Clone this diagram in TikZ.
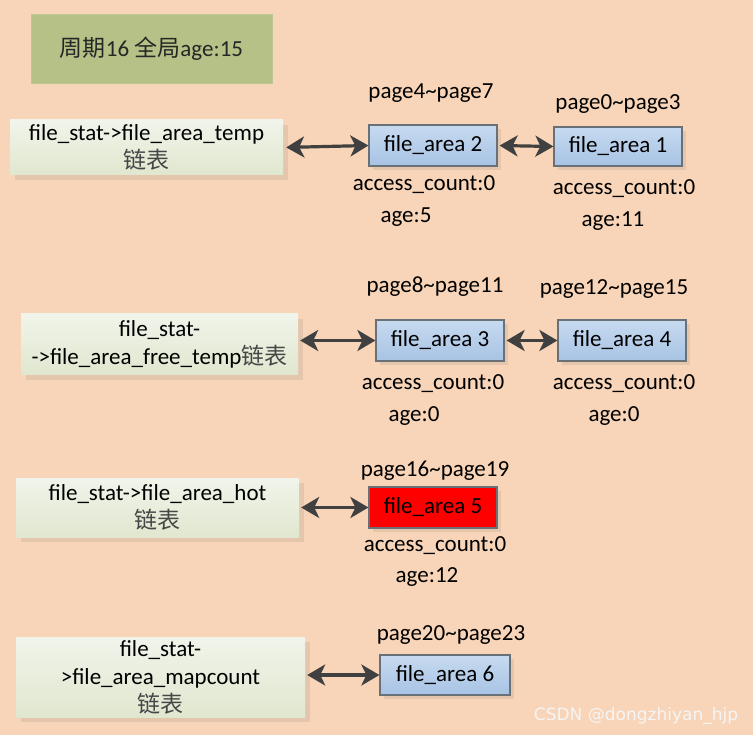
\documentclass[tikz,border=0pt]{standalone}
\usepackage{fontspec}
\setmainfont{Carlito}
\newfontfamily\cjk{Noto Sans CJK SC}
\newfontfamily\wmfont{DejaVu Sans}
\usetikzlibrary{arrows.meta,shadows}
\definecolor{bgc}{RGB}{248,213,184}
\definecolor{titlec}{RGB}{181,193,135}
\definecolor{ltop}{RGB}{241,244,234}
\definecolor{lbot}{RGB}{224,231,207}
\definecolor{btop}{RGB}{199,218,240}
\definecolor{bbot}{RGB}{167,195,228}
\definecolor{bordc}{RGB}{105,112,120}
\definecolor{shadc}{RGB}{228,198,172}
\definecolor{arrc}{RGB}{64,64,64}
\definecolor{cjkc}{RGB}{70,70,70}
\tikzset{
  txt/.style={inner sep=0pt, font=\fontsize{23}{28}\selectfont},
  listbox/.style={txt, align=center, top color=ltop, bottom color=lbot, draw=none,
    drop shadow={shadow xshift=5pt, shadow yshift=-5pt, fill=shadc, opacity=1}},
  areabox/.style={txt, minimum width=128pt, minimum height=41pt, draw=bordc, line width=1.2pt,
    top color=btop, bottom color=bbot,
    drop shadow={shadow xshift=4pt, shadow yshift=-4pt, fill=shadc, opacity=1}},
  hotbox/.style={areabox, top color=red, bottom color=red},
  arr/.style={{Stealth[length=18pt,width=21pt,inset=5pt]}-{Stealth[length=18pt,width=21pt,inset=5pt]}, line width=3.2pt, draw=arrc},
}
\begin{document}
\begin{tikzpicture}[x=1pt,y=-1pt]
\useasboundingbox (0,0) rectangle (753,735);
\fill[bgc] (0,0) rectangle (753,735);

% title
\node[txt, fill=titlec, draw=titlec!90!white, minimum width=241pt, minimum height=69pt, text=black!85] (title) at (151.5,48.5) {{\cjk 周期}16 {\cjk 全局}age:15};

% row 1
\node[listbox, minimum width=273pt, minimum height=55pt] (L1) at (146.5,147.5)
  {file\_stat->file\_area\_temp\\{\cjk\color{cjkc}链表}};
\node[areabox] (fa2) at (433,145.5) {file\_area 2};
\node[areabox, minimum height=39pt] (fa1) at (618,146.5) {file\_area 1};
\node[txt] (p2) at (431,93) {page4\textasciitilde page7};
\node[txt] (p1) at (618,104) {page0\textasciitilde page3};
\node[txt] (c2) at (424,185) {access\_count:0};
\node[txt] (a2) at (406,217) {age:5};
\node[txt] (c1) at (624,189) {access\_count:0};
\node[txt] (a1) at (613,221) {age:11};
\draw[arr, shorten <=3pt] (L1.east) -- (fa2.west);
\draw[arr, shorten <=2pt] (fa2.east) -- (fa1.west);

% row 2
\node[listbox, minimum width=277pt, minimum height=61pt] (L2) at (159.5,344.5)
  {file\_stat-\\->file\_area\_free\_temp{\cjk\color{cjkc}链表}};
\node[areabox] (fa3) at (440,340.5) {file\_area 3};
\node[areabox] (fa4) at (622,340.5) {file\_area 4};
\node[txt] (p3) at (435,287) {page8\textasciitilde page11};
\node[txt] (p4) at (614,289) {page12\textasciitilde page15};
\node[txt] (c3) at (433,384) {access\_count:0};
\node[txt] (a3) at (414,416) {age:0};
\node[txt] (c4) at (624,384) {access\_count:0};
\node[txt] (a4) at (614,416) {age:0};
\draw[arr, shorten <=2pt] (L2.east |- fa3.west) -- (fa3.west);
\draw[arr, shorten <=2pt] (fa3.east) -- (fa4.west);

% row 3
\node[listbox, minimum width=283pt, minimum height=59pt] (L3) at (157.5,507.5)
  {file\_stat->file\_area\_hot\\{\cjk\color{cjkc}链表}};
\node[hotbox] (fa5) at (433,507.5) {file\_area 5};
\node[txt] (p5) at (435,471) {page16\textasciitilde page19};
\node[txt] (c5) at (435,546) {access\_count:0};
\node[txt] (a5) at (427,577) {age:12};
\draw[arr, shorten <=2pt] (L3.east |- fa5.west) -- (fa5.west);

% row 4
\node[listbox, minimum width=289pt, minimum height=80pt] (L4) at (160.5,677)
  {file\_stat-\\>file\_area\_mapcount\\{\cjk\color{cjkc}链表}};
\node[areabox, minimum width=130pt, minimum height=40pt] (fa6) at (445,675) {file\_area 6};
\node[txt] (p6) at (451,635) {page20\textasciitilde page23};
\draw[arr, shorten <=2pt] (L4.east |- fa6.west) -- (fa6.west);

% watermark
\node[inner sep=0pt, font=\wmfont\fontsize{17}{20}\selectfont, text=white!92!gray] (wm) at (636,716) {CSDN @dongzhiyan\_hjp};
\end{tikzpicture}
\end{document}
